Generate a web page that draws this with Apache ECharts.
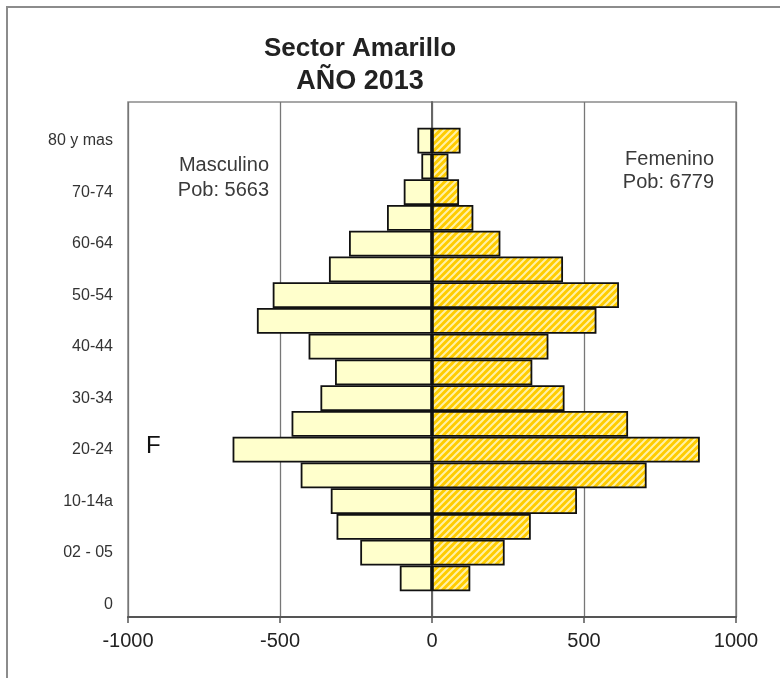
<!DOCTYPE html>
<html>
<head>
<meta charset="utf-8">
<script src="https://cdn.jsdelivr.net/npm/echarts@6/dist/echarts.min.js"></script>
<style>
  html, body { margin: 0; padding: 0; background: #fff; }
  #chart { width: 780px; height: 678px; }
</style>
</head>
<body>
<div id="chart"></div>
<script>
// Age groups, bottom to top (blank slots at both ends of the axis)
const categories = [
  '0', '01', '02 - 05', '06-09', '10-14a', '15-19', '20-24', '25-29', '30-34', '35-39',
  '40-44', '45-49', '50-54', '55-59', '60-64', '65-69', '70-74', '75-79', '80 y mas', ''
];

// Population per age group
const maleValues = [
  null, 106, 236, 314, 333, 432, 656, 462, 367, 319,
  406, 576, 524, 339, 273, 148, 93, 35, 48, null
];
const femaleValues = [
  null, 126, 239, 325, 477, 706, 881, 645, 436, 330,
  383, 541, 615, 431, 225, 136, 89, 54, 94, null
];

// Horizontal axis range and tick step
const xMin = -1000;
const xMax = 1000;
const xStep = 500;

const titleLines = ['Sector Amarillo', 'AÑO 2013'];
const maleNote = ['Masculino', 'Pob: 5663'];
const femaleNote = ['Femenino', 'Pob: 6779'];

// Diagonal hatch fill for the female bars
function hatchPattern() {
  const s = 7;
  const c = document.createElement('canvas');
  c.width = s; c.height = s;
  const g = c.getContext('2d');
  g.fillStyle = '#FFCC00';
  g.fillRect(0, 0, s, s);
  g.strokeStyle = '#FFF1A6';
  g.lineWidth = 2;
  g.beginPath();
  g.moveTo(-1, s + 1); g.lineTo(s + 1, -1);
  g.moveTo(-1, 1); g.lineTo(1, -1);
  g.moveTo(s - 1, s + 1); g.lineTo(s + 1, s - 1);
  g.stroke();
  return c;
}

const FONT = "'Liberation Sans', Arial, sans-serif";
const chart = echarts.init(document.getElementById('chart'));

chart.setOption({
  animation: false,
  backgroundColor: '#ffffff',
  grid: {
    left: 128, right: 44, top: 102, bottom: 61,
    show: true, borderColor: '#8a8a8a', borderWidth: 1.5, backgroundColor: 'transparent'
  },
  xAxis: {
    type: 'value',
    min: xMin, max: xMax, interval: xStep,
    axisLine: { show: true, onZero: false, lineStyle: { color: '#555', width: 2 } },
    axisTick: { show: true, length: 6, lineStyle: { color: '#555', width: 1.5 } },
    axisLabel: {
      color: '#222', fontFamily: FONT, fontSize: 20, margin: 14,
      formatter: v => String(v)
    },
    splitLine: { show: true, lineStyle: { color: '#777', width: 1.3 } }
  },
  yAxis: {
    type: 'category',
    data: categories,
    axisLine: { show: true, lineStyle: { color: '#666', width: 2 } },
    axisTick: { show: false },
    axisLabel: { interval: 1, color: '#333', fontFamily: FONT, fontSize: 16, margin: 15 },
    splitLine: { show: false }
  },
  series: [
    {
      name: 'Masculino',
      type: 'bar',
      data: maleValues.map(v => (v == null ? null : -v)),
      barGap: '-100%',
      barCategoryGap: '0%',
      itemStyle: { color: '#FFFFCC', borderColor: '#111', borderWidth: 1.8 }
    },
    {
      name: 'Femenino',
      type: 'bar',
      data: femaleValues,
      barGap: '-100%',
      barCategoryGap: '0%',
      itemStyle: {
        color: { image: hatchPattern(), repeat: 'repeat' },
        borderColor: '#111', borderWidth: 1.8
      }
    }
  ],
  graphic: [
    {
      type: 'rect', silent: true, z: -1,
      shape: { x: 7, y: 7, width: 800, height: 700 },
      style: { fill: 'none', stroke: '#8c8c8c', lineWidth: 2 }
    },
    {
      type: 'text', x: 360, y: 49,
      style: { text: titleLines[0], font: 'bold 26px ' + FONT, fill: '#222', textAlign: 'center', textVerticalAlign: 'middle' }
    },
    {
      type: 'text', x: 360, y: 82,
      style: { text: titleLines[1], font: 'bold 27px ' + FONT, fill: '#222', textAlign: 'center', textVerticalAlign: 'middle' }
    },
    {
      type: 'text', x: 269, y: 165,
      style: { text: maleNote[0], font: '20px ' + FONT, fill: '#3a3a3a', textAlign: 'right', textVerticalAlign: 'middle' }
    },
    {
      type: 'text', x: 269, y: 190,
      style: { text: maleNote[1], font: '20px ' + FONT, fill: '#3a3a3a', textAlign: 'right', textVerticalAlign: 'middle' }
    },
    {
      type: 'text', x: 714, y: 159,
      style: { text: femaleNote[0], font: '20px ' + FONT, fill: '#3a3a3a', textAlign: 'right', textVerticalAlign: 'middle' }
    },
    {
      type: 'text', x: 714, y: 182,
      style: { text: femaleNote[1], font: '20px ' + FONT, fill: '#3a3a3a', textAlign: 'right', textVerticalAlign: 'middle' }
    },
    {
      type: 'text', x: 146, y: 446,
      style: { text: 'F', font: '24px ' + FONT, fill: '#111', textAlign: 'left', textVerticalAlign: 'middle' }
    }
  ]
});
</script>
</body>
</html>
